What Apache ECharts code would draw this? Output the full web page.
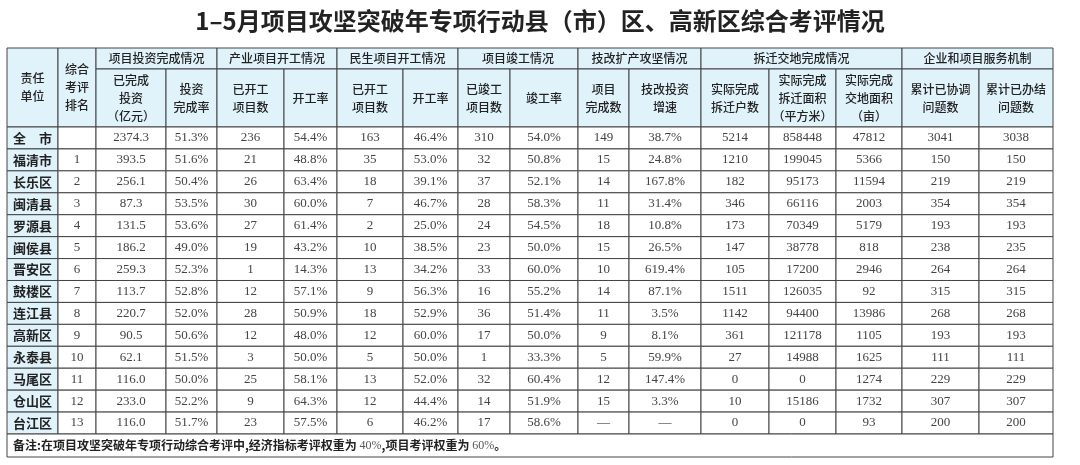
<!DOCTYPE html>
<html><head><meta charset="utf-8">
<script src="https://cdn.jsdelivr.net/npm/echarts@6/dist/echarts.min.js"></script>
<style>html,body{margin:0;padding:0;background:#fff}#c{width:1080px;height:465px}</style>
</head><body><div id="c"></div>
<script>
const units = ['全　市','福清市','长乐区','闽清县','罗源县','闽侯县','晋安区','鼓楼区','连江县','高新区','永泰县','马尾区','仓山区','台江区'];
const ranks = ['','1','2','3','4','5','6','7','8','9','10','11','12','13'];
const investDone = ['2374.3','393.5','256.1','87.3','131.5','186.2','259.3','113.7','220.7','90.5','62.1','116.0','233.0','116.0'];
const investRate = ['51.3%','51.6%','50.4%','53.5%','53.6%','49.0%','52.3%','52.8%','52.0%','50.6%','51.5%','50.0%','52.2%','51.7%'];
const indStarted = ['236','21','26','30','27','19','1','12','28','12','3','25','9','23'];
const indRate = ['54.4%','48.8%','63.4%','60.0%','61.4%','43.2%','14.3%','57.1%','50.9%','48.0%','50.0%','58.1%','64.3%','57.5%'];
const livStarted = ['163','35','18','7','2','10','13','9','18','12','5','13','12','6'];
const livRate = ['46.4%','53.0%','39.1%','46.7%','25.0%','38.5%','34.2%','56.3%','52.9%','60.0%','50.0%','52.0%','44.4%','46.2%'];
const finished = ['310','32','37','28','24','23','33','16','36','17','1','32','14','17'];
const finishRate = ['54.0%','50.8%','52.1%','58.3%','54.5%','50.0%','60.0%','55.2%','51.4%','50.0%','33.3%','60.4%','51.9%','58.6%'];
const techDone = ['149','15','14','11','18','15','10','14','11','9','5','12','15','—'];
const techGrowth = ['38.7%','24.8%','167.8%','31.4%','10.8%','26.5%','619.4%','87.1%','3.5%','8.1%','59.9%','147.4%','3.3%','—'];
const households = ['5214','1210','182','346','173','147','105','1511','1142','361','27','0','10','0'];
const demolArea = ['858448','199045','95173','66116','70349','38778','17200','126035','94400','121178','14988','0','15186','0'];
const landArea = ['47812','5366','11594','2003','5179','818','2946','92','13986','1105','1625','1274','1732','93'];
const coordinated = ['3041','150','219','354','193','238','264','315','268','193','111','229','307','200'];
const resolved = ['3038','150','219','354','193','235','264','315','268','193','111','229','307','200'];
const groupHeaders = [['项目投资完成情况',2,2],['产业项目开工情况',4,2],['民生项目开工情况',6,2],['项目竣工情况',8,2],['技改扩产攻坚情况',10,2],['拆迁交地完成情况',12,3],['企业和项目服务机制',15,2]];
const subHeaders = ['已完成\n投资\n（亿元）','投资\n完成率','已开工\n项目数','开工率','已开工\n项目数','开工率','已竣工\n项目数','竣工率','项目\n完成数','技改投资\n增速','实际完成\n拆迁户数','实际完成\n拆迁面积\n（平方米）','实际完成\n交地面积\n（亩）','累计已协调\n问题数','累计已办结\n问题数'];
const note = '备注:在项目攻坚突破年专项行动综合考评中,经济指标考评权重为 {n|40%},项目考评权重为 {n|60%}。';

// layout
const colW = [51,38,70,51,67,53,66,55,52,68,51,72,68,67,66,77,74];
const rowH = [21,58].concat(Array(14).fill(21.93)).concat([23]);
const colX = [0]; colW.forEach(w=>colX.push(colX[colX.length-1]+w));
const rowY = [0]; rowH.forEach(h=>rowY.push(rowY[rowY.length-1]+h));
const cols = [units,ranks,investDone,investRate,indStarted,indRate,livStarted,livRate,finished,finishRate,techDone,techGrowth,households,demolArea,landArea,coordinated,resolved];

const HB='#e0f2fa';
const cells=[];
cells.push([0,1,0,2,'责任\n单位','h']);
cells.push([1,2,0,2,'综合\n考评\n排名','h']);
groupHeaders.forEach(g=>cells.push([g[1],g[1]+g[2],0,1,g[0],'h']));
subHeaders.forEach((t,i)=>cells.push([i+2,i+3,1,2,t,'h']));
for(let r=0;r<14;r++){ for(let c=0;c<cols.length;c++){ cells.push([c,c+1,r+2,r+3,cols[c][r], c===0?'u':'d']); } }
cells.push([0,17,16,17,note,'n']);
const data = cells.map(c=>[colX[c[0]],colX[c[1]],rowY[c[2]],rowY[c[3]],c[4],c[5]]);

const chart = echarts.init(document.getElementById('c'));
chart.setOption({
  animation:false,
  title:{text:'1–5月项目攻坚突破年专项行动县（市）区、高新区综合考评情况',left:'center',top:4,
    textStyle:{fontFamily:'Noto Sans CJK SC',fontWeight:'bold',fontSize:24,color:'#222'}},
  grid:{left:7,right:27,top:48,bottom:8},
  xAxis:{type:'value',min:0,max:colX[colX.length-1],show:false},
  yAxis:{type:'value',min:0,max:rowY[rowY.length-1],inverse:true,show:false},
  series:[{type:'custom',data:data,encode:{x:[0,1],y:[2,3]},
    renderItem:(params,api)=>{
      const p0=api.coord([api.value(0),api.value(2)]);
      const p1=api.coord([api.value(1),api.value(3)]);
      const d=data[params.dataIndex]; const kind=d[5];
      const fill=(kind==='h'||kind==='u')?HB:'#fff';
      let ts;
      if(kind==='h') ts={text:d[4],fill:'#222',font:'500 12px "Noto Sans CJK SC"',lineHeight:18};
      else if(kind==='u') ts={text:d[4],fill:'#222',font:'bold 13px "Noto Sans CJK SC"'};
      else if(kind==='n') ts={text:d[4],fill:'#222',font:'bold 12px "Noto Sans CJK SC"',rich:{n:{fontFamily:'Liberation Serif',fontWeight:'normal',fontSize:12,fill:'#555'}}};
      else ts={text:d[4],fill:'#444',font:'13px "Liberation Serif"'};
      const cx=kind==='n'?p0[0]+6:(p0[0]+p1[0])/2;
      return {type:'group',children:[
        {type:'rect',shape:{x:p0[0],y:p0[1],width:p1[0]-p0[0],height:p1[1]-p0[1]},style:{fill:fill,stroke:'#444',lineWidth:1}},
        {type:'text',x:cx,y:(p0[1]+p1[1])/2,style:Object.assign({align:kind==='n'?'left':'center',verticalAlign:'middle'},ts)}
      ]};
    }}]
});
</script></body></html>
